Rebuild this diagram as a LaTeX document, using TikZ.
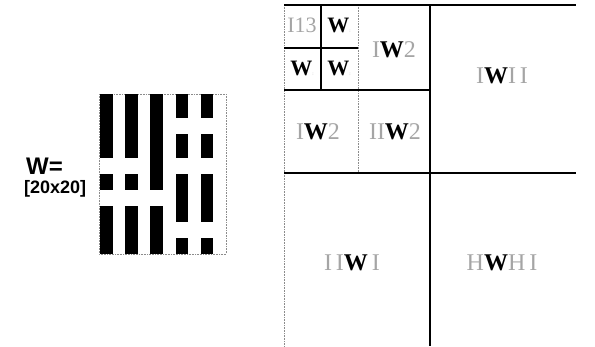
\documentclass[tikz,border=0pt]{standalone}
\usepackage{fontspec}
\setmainfont{Liberation Serif}
\newfontfamily\arialfont{Liberation Sans}
\usepackage{tikz}
\usetikzlibrary{positioning}
\definecolor{lblgray}{RGB}{165, 165, 165}
\definecolor{dotgray}{RGB}{140, 140, 140}

\newcommand{\gI}[1]{{\color{lblgray}\mdseries #1}}

\begin{document}
\begin{tikzpicture}[x=1pt, y=-1pt,
    bar/.style={fill=black},
    thickline/.style={black, line width=1.8pt},
    thinline/.style={black, line width=1.1pt},
    dotline/.style={dotgray, densely dotted, line width=0.6pt},
    namelbl/.style={font=\arialfont\bfseries\fontsize{#1}{#1}\selectfont,
      inner sep=0pt, anchor=west},
    blocklbl/.style={font=\fontsize{24}{24}\selectfont\bfseries, inner sep=0pt},
    smalllbl/.style={font=\fontsize{22}{22}\selectfont\bfseries, inner sep=0pt}]

  \useasboundingbox (0,0) rectangle (595,346);

  % --- matrix name ---
  \node[namelbl=24] (name) at (26,166) {W=};
  \node[namelbl=18, below=6pt of name.south west,
    anchor=north west, xshift=-2pt] (size) {[20x20]};

  % --- sparsity pattern, 20x20 cells ---
  \draw[dotline] (99,94) rectangle (226,254);
  \foreach \c/\a/\b in {0/0/8, 0/10/12, 0/14/20,
                        4/0/8, 4/10/12, 4/14/20,
                        8/0/12, 8/14/20,
                        12/0/3, 12/5/8, 12/10/16, 12/18/20,
                        16/0/3, 16/5/8, 16/10/16, 16/18/20}
    \fill[bar] ({100+\c*6.3}, {94+\a*8}) rectangle ++(12.6, {(\b-\a)*8});

  % --- block partition ---
  \draw[dotline] (284,5) -- (284,346);
  \draw[dotline] (358,5) -- (358,173);
  \draw[thinline] (284,5) -- (576,5);
  \draw[thickline] (430,5) -- (430,346);
  \draw[thickline] (284,173) -- (576,173);
  \draw[thinline] (284,90) -- (430,90);
  \draw[thinline] (321,5) -- (321,90);
  \draw[thinline] (284,48) -- (358,48);

  % --- level 3 labels ---
  \node[smalllbl] (w13) at (302,25) {\gI{I13}};
  \node[smalllbl] (w14) at (339,25) {W\gI{\tiny:}};
  \node[smalllbl] (w23) at (302,68) {W\gI{\tiny:}};
  \node[smalllbl] (w24) at (339,68) {W\gI{\tiny:}};

  % --- level 2 labels ---
  \node[blocklbl] (w2a) at (394,50) {\gI{I}W\gI{2}};
  \node[blocklbl] (w2b) at (318,132) {\gI{I}W\gI{2}};
  \node[blocklbl] (w2c) at (395,132) {\gI{II}W\gI{2}};

  % --- level 1 labels ---
  \node[blocklbl] (w1a) at (502,76) {\gI{I}W\gI{I\,I}};
  \node[blocklbl] (w1b) at (352,263) {\gI{I\,I}W\gI{\,I}};
  \node[blocklbl] (w1c) at (502,263) {\gI{H}W\gI{H\,I}};

\end{tikzpicture}
\end{document}
